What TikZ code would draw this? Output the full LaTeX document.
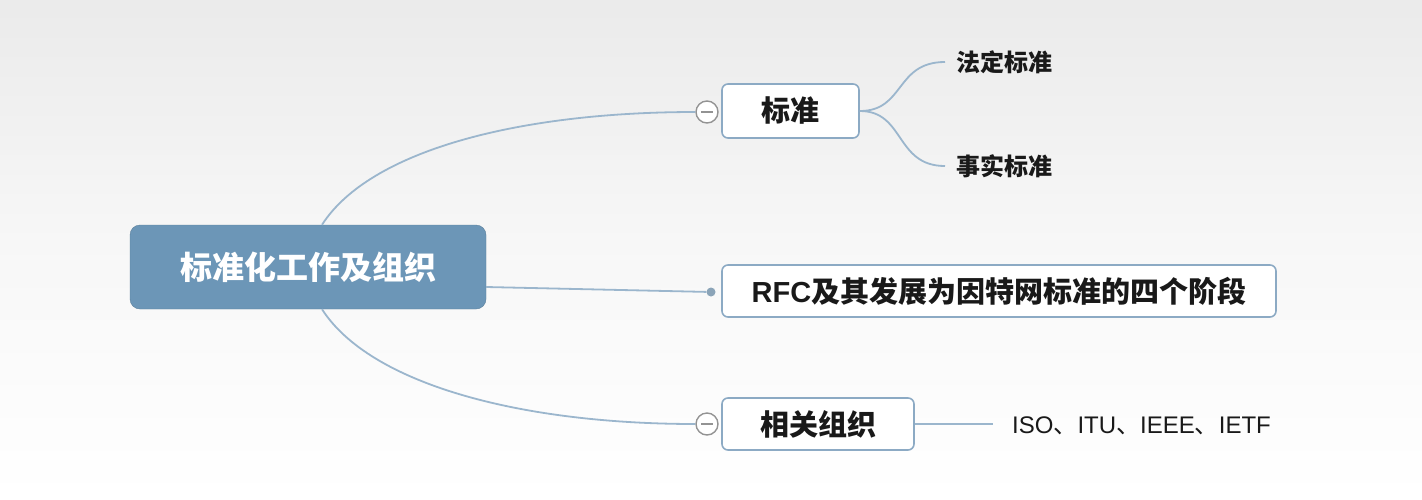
\documentclass[tikz,border=0pt]{standalone}
\usepackage{fontspec}
\setmainfont{Liberation Sans}
\newfontfamily\cjk{Noto Sans CJK SC}
\newfontfamily\lat{Liberation Sans}
\definecolor{rootfill}{RGB}{108,150,183}
\definecolor{boxline}{RGB}{140,170,196}
\definecolor{wire}{RGB}{155,182,205}
\definecolor{ink}{RGB}{25,25,25}
\begin{document}
\begin{tikzpicture}[x=1pt,y=-1pt,
  rootbox/.style={draw=rootfill!85!black, fill=rootfill, rounded corners=10pt,
    minimum width=356pt, minimum height=84pt, text=white,
    font=\cjk\bfseries\fontsize{32}{36}\selectfont},
  topicbox/.style={draw=boxline, line width=1.6pt, fill=white, rounded corners=6pt,
    text=ink, font=\cjk\bfseries\fontsize{29}{33}\selectfont},
  leaf/.style={anchor=west, text=ink, inner sep=0pt},
  wirestyle/.style={draw=wire, line width=1.8pt},
  fold/.style={circle, draw=gray!85, line width=1.4pt, fill=white, minimum size=22pt, inner sep=0pt,
    path picture={\draw[gray!85, line width=1.4pt]
      ([xshift=5pt]path picture bounding box.west) -- ([xshift=-5pt]path picture bounding box.east);}},
  knot/.style={circle, fill=wire!90!black, minimum size=9pt, inner sep=0pt}]

% background
\useasboundingbox (0,0) rectangle (1422,499);
\shade[top color=black!8, bottom color=white, middle color=white!97!black] (0,0) rectangle (1422,499);

% central topic
\node[rootbox] (root) at (308,267) {标准化工作及组织};

% main topics
\node[topicbox, minimum width=137pt, minimum height=54pt] (std) at (790.5,111) {标准};
\node[topicbox, minimum width=554pt, minimum height=52pt] (rfc) at (999,291) {\lat\bfseries RFC\cjk\bfseries 及其发展为因特网标准的四个阶段};
\node[topicbox, minimum width=192pt, minimum height=52pt] (org) at (818,424) {相关组织};

% collapse markers and junction dot
\node[fold] (f1) at (707,112) {};
\node[fold] (f3) at (707,424) {};
\node[knot] (k2) at (711,292) {};

% leaf texts
\node[leaf, font=\cjk\bfseries\fontsize{24}{28}\selectfont] (law) at (956,62) {法定标准};
\node[leaf, font=\cjk\bfseries\fontsize{24}{28}\selectfont] (fact) at (956,166) {事实标准};
\node[leaf, font=\lat\fontsize{24}{28}\selectfont] (list) at (1012,426) {ISO\cjk 、\lat ITU\cjk 、\lat IEEE\cjk 、\lat IETF};

% branch wires
\coordinate (lawend) at (945,62);
\coordinate (factend) at (945,166);
\coordinate (listend) at (993,424);
\draw[wirestyle] ([xshift=14pt]root.north) .. controls (370,150) and (520,112) .. (f1.west);
\draw[wirestyle] ([xshift=14pt]root.south) .. controls (370,384) and (520,424) .. (f3.west);
\draw[wirestyle] ([yshift=-20pt]root.east) -- (k2);
\draw[wirestyle] (std.east) .. controls (905,111) and (895,62) .. (lawend);
\draw[wirestyle] (std.east) .. controls (905,111) and (895,166) .. (factend);
\draw[wirestyle] (org.east) -- (listend);
\end{tikzpicture}
\end{document}
